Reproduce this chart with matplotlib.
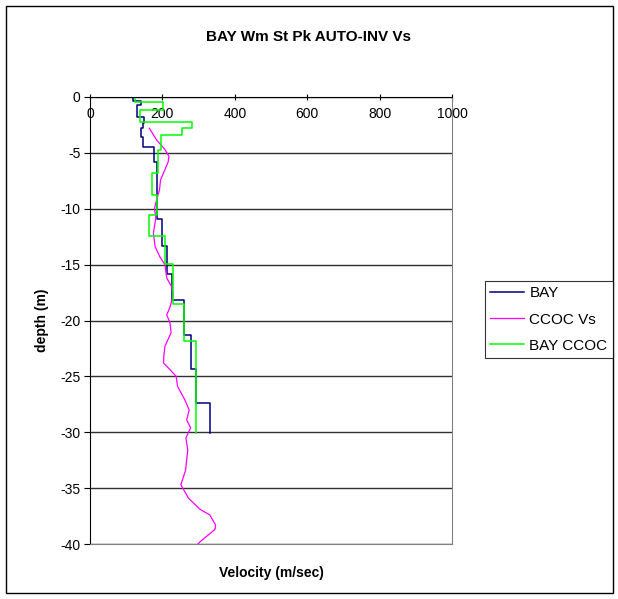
import matplotlib
matplotlib.use('Agg')
import matplotlib.pyplot as plt
from matplotlib.patches import Rectangle

plt.rcParams['font.family'] = ['Liberation Sans', 'DejaVu Sans']
plt.rcParams['axes.unicode_minus'] = False

# BAY layered model: velocity of each layer and depth of its top/bottom (m)
bay_vel = [120, 140, 129, 149, 146, 140, 146, 177, 186, 200, 214, 227, 260, 278, 293, 331]
bay_depth = [0, -0.36, -0.7, -1.76, -2.35, -2.8, -3.55, -4.45, -5.8, -10.9,
             -13.3, -15.8, -18.2, -21.3, -24.3, -27.4, -30.1]

# BAY CCOC layered model
ccoc_step_vel = [125, 203, 138, 281, 253, 195, 189, 170, 184, 164, 207, 230, 260, 293]
ccoc_step_depth = [0, -0.42, -1.16, -2.2, -2.8, -3.4, -4.74, -6.8, -8.8, -10.6,
                   -12.4, -14.9, -18.5, -21.8, -30.1]

# CCOC Vs smooth profile
ccoc_vel = [164, 184, 207, 218, 216, 207, 195, 192, 184, 178, 182, 175, 180, 193,
            207, 212, 226, 230, 226, 221, 212, 221, 224, 207, 204, 203, 221, 238,
            242, 262, 274, 267, 278, 265, 270, 264, 251, 272, 304, 331, 347, 345,
            304, 298]
ccoc_depth = [-2.8, -3.85, -4.7, -5.3, -5.8, -6.5, -7.4, -8.3, -9.2, -10.0, -10.8,
              -12.2, -13.4, -14.3, -15.0, -16.2, -17.0, -17.7, -18.2, -18.8, -19.5,
              -20.2, -21.1, -22.3, -23.2, -23.8, -24.4, -25.0, -25.9, -27.1, -28.0,
              -28.9, -29.6, -30.5, -31.6, -33.4, -34.7, -35.9, -36.9, -37.4, -38.3,
              -38.7, -39.8, -40.0]


def staircase(vel, depth):
    xs, ys = [], []
    for i, v in enumerate(vel):
        xs += [v, v]
        ys += [depth[i], depth[i + 1]]
    return xs, ys


fig = plt.figure(figsize=(6.18, 5.99), dpi=100)
ax = fig.add_axes([90 / 618, 1 - 544 / 599, (452 - 90) / 618, (544 - 97) / 599])

ax.set_xlim(0, 1000)
ax.set_ylim(-40, 0)
ax.set_yticks(range(-40, 1, 5))
ax.set_xticks(range(0, 1001, 200))
ax.yaxis.grid(True, color='#303030', linewidth=1.0)
ax.set_axisbelow(True)

bx, by = staircase(bay_vel, bay_depth)
cx, cy = staircase(ccoc_step_vel, ccoc_step_depth)
ax.plot(bx, by, color='#000080', linewidth=1.1, label='BAY')
ax.plot(ccoc_vel, ccoc_depth, color='#FF00FF', linewidth=0.9, label='CCOC Vs')
ax.plot(cx, cy, color='#00FF00', linewidth=1.1, label='BAY CCOC')

ax.xaxis.set_ticks_position('top')
ax.tick_params(axis='x', direction='inout', length=5, labelsize=10, pad=-20)
ax.tick_params(axis='y', direction='out', length=4, labelsize=10, pad=3)
for s in ['top', 'left']:
    ax.spines[s].set_color('black')
for s in ['right', 'bottom']:
    ax.spines[s].set_color('#808080')

ax.set_ylabel('depth (m)', fontsize=10, fontweight='bold', labelpad=8)
fig.text(271 / 618, 1 - 573 / 599, 'Velocity (m/sec)', ha='center', va='center',
         fontsize=10, fontweight='bold')
fig.text(309 / 618, 1 - 37 / 599, 'BAY Wm St Pk AUTO-INV Vs', ha='center', va='center',
         fontsize=11, fontweight='bold')

leg = fig.legend(loc='upper left', bbox_to_anchor=(485 / 618, 1 - 281 / 599),
                 fontsize=11, frameon=True, fancybox=False, edgecolor='black',
                 handlelength=2.2, borderpad=0.35, labelspacing=0.8, handletextpad=0.35,
                 borderaxespad=0)
leg.get_frame().set_linewidth(0.8)

fig.patches.append(Rectangle((6 / 618, 6 / 599), 607 / 618, 587 / 599, transform=fig.transFigure,
                             fill=False, edgecolor='black', linewidth=1.0))

fig.savefig('out.png', dpi=100)
